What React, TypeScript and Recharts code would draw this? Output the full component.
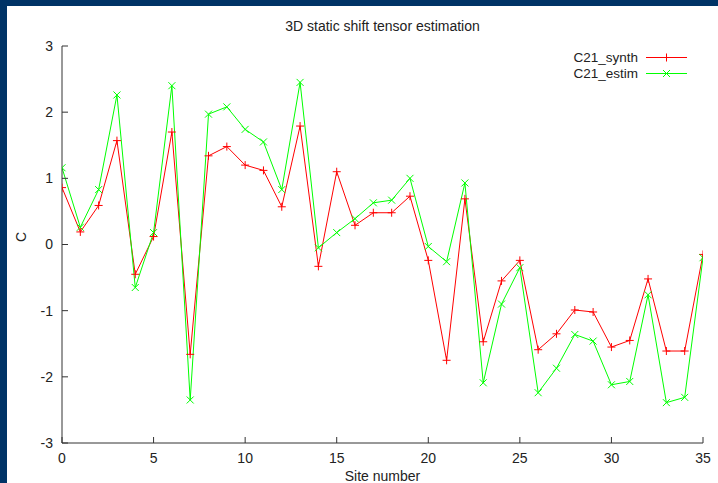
import React from 'react';
import { LineChart, Line, XAxis, YAxis, Legend } from 'recharts';

const sites = [
  0, 1, 2, 3, 4, 5, 6, 7, 8, 9, 10, 11, 12, 13, 14, 15, 16, 17,
  18, 19, 20, 21, 22, 23, 24, 25, 26, 27, 28, 29, 30, 31, 32, 33, 34, 35,
];
const c21Synth = [
  0.86, 0.19, 0.59, 1.57, -0.45, 0.12, 1.7, -1.66, 1.34, 1.48, 1.2, 1.12,
  0.57, 1.79, -0.33, 1.1, 0.29, 0.48, 0.48, 0.73, -0.24, -1.75, 0.69, -1.47,
  -0.55, -0.24, -1.59, -1.35, -0.99, -1.02, -1.55, -1.45, -0.52, -1.61, -1.61, -0.15,
];
const c21Estim = [
  1.16, 0.26, 0.83, 2.26, -0.65, 0.18, 2.4, -2.35, 1.97, 2.08, 1.74, 1.55,
  0.83, 2.45, -0.05, 0.18, 0.39, 0.63, 0.67, 1.0, -0.03, -0.26, 0.93, -2.09,
  -0.9, -0.35, -2.24, -1.87, -1.36, -1.46, -2.12, -2.07, -0.76, -2.39, -2.31, -0.2,
];
const xTicks = [0, 5, 10, 15, 20, 25, 30, 35];
const yTicks = [-3, -2, -1, 0, 1, 2, 3];
const seriesNames = ['C21_synth', 'C21_estim'];

const data = sites.map((s, i) => ({ site: s, synth: c21Synth[i], estim: c21Estim[i] }));

const RED = '#ff0000';
const GREEN = '#00ff00';
const AXIS = '#333333';
const FONT = '"Liberation Sans", Arial, Helvetica, sans-serif';

const PlusDot = (props: any) => {
  const { cx, cy } = props;
  if (cx == null || cy == null) return null;
  const r = 4;
  return (
    <g>
      <line x1={cx - r} y1={cy} x2={cx + r} y2={cy} stroke={RED} strokeWidth={1} />
      <line x1={cx} y1={cy - r} x2={cx} y2={cy + r} stroke={RED} strokeWidth={1} />
    </g>
  );
};

const CrossDot = (props: any) => {
  const { cx, cy } = props;
  if (cx == null || cy == null) return null;
  const r = 3.5;
  return (
    <g>
      <line x1={cx - r} y1={cy - r} x2={cx + r} y2={cy + r} stroke={GREEN} strokeWidth={1} />
      <line x1={cx - r} y1={cy + r} x2={cx + r} y2={cy - r} stroke={GREEN} strokeWidth={1} />
    </g>
  );
};

const renderLegend = () => {
  const rows = [
    { name: seriesNames[0], color: RED, marker: 'plus' },
    { name: seriesNames[1], color: GREEN, marker: 'cross' },
  ];
  return (
    <div style={{ fontFamily: FONT, fontSize: 13.5, color: '#222' }}>
      {rows.map((r) => (
        <div
          key={r.name}
          style={{ display: 'flex', justifyContent: 'flex-end', alignItems: 'center', height: 15.5 }}
        >
          <span style={{ lineHeight: '15px', display: 'block' }}>{r.name}</span>
          <svg width={41} height={13} style={{ marginLeft: 8 }}>
            <line x1={0} y1={6.5} x2={41} y2={6.5} stroke={r.color} strokeWidth={1} />
            {r.marker === 'plus' ? (
              <g>
                <line x1={16.5} y1={6.5} x2={24.5} y2={6.5} stroke={r.color} />
                <line x1={20.5} y1={2.5} x2={20.5} y2={10.5} stroke={r.color} />
              </g>
            ) : (
              <g>
                <line x1={17} y1={3} x2={24} y2={10} stroke={r.color} />
                <line x1={17} y1={10} x2={24} y2={3} stroke={r.color} />
              </g>
            )}
          </svg>
        </div>
      ))}
    </div>
  );
};

export default function App() {
  const tickStyle = { fill: '#222', fontSize: 14, fontFamily: FONT };
  return (
    <div
      style={{
        position: 'fixed',
        left: 0,
        top: 0,
        width: 718,
        height: 483,
        background: '#003366',
        overflow: 'hidden',
      }}
    >
      <div
        style={{
          position: 'absolute',
          left: 7,
          top: 6,
          width: 711,
          height: 477,
          background: '#ffffff',
        }}
      >
        <div
          style={{
            position: 'absolute',
            left: 0,
            width: 751,
            top: 12,
            textAlign: 'center',
            fontFamily: FONT,
            fontSize: 14,
            color: '#222',
            lineHeight: '16px',
          }}
        >
          3D static shift tensor estimation
        </div>
        <div
          style={{
            position: 'absolute',
            left: 0,
            width: 751,
            top: 463,
            textAlign: 'center',
            fontFamily: FONT,
            fontSize: 14,
            color: '#222',
            lineHeight: '14px',
          }}
        >
          Site number
        </div>
        <div
          style={{
            position: 'absolute',
            left: 14,
            top: 231,
            transform: 'translate(-50%, -50%) rotate(-90deg)',
            fontFamily: FONT,
            fontSize: 14,
            color: '#222',
            lineHeight: '16px',
          }}
        >
          C
        </div>
        <LineChart
          width={711}
          height={477}
          data={data}
          margin={{ top: 40, right: 15, bottom: 0, left: 0 }}
          style={{ position: 'absolute', left: 0, top: 0 }}
        >
          <XAxis
            xAxisId="b"
            dataKey="site"
            type="number"
            orientation="bottom"
            domain={[0, 35]}
            ticks={xTicks}
            interval={0}
            allowDataOverflow
            height={40}
            tickSize={-6}
            tickMargin={16}
            stroke={AXIS}
            tick={tickStyle}
          />
          <XAxis
            xAxisId="t"
            dataKey="site"
            type="number"
            orientation="top"
            domain={[0, 35]}
            ticks={xTicks}
            interval={0}
            allowDataOverflow
            height={0}
            tickSize={-6}
            stroke={AXIS}
            tick={false}
          />
          <YAxis
            yAxisId="l"
            type="number"
            orientation="left"
            domain={[-3, 3]}
            ticks={yTicks}
            interval={0}
            allowDataOverflow
            width={55}
            tickSize={-6}
            tickMargin={15}
            stroke={AXIS}
            tick={tickStyle}
          />
          <YAxis
            yAxisId="r"
            type="number"
            orientation="right"
            domain={[-3, 3]}
            ticks={yTicks}
            interval={0}
            allowDataOverflow
            width={0}
            tickSize={-6}
            stroke={AXIS}
            tick={false}
          />
          <Legend
            layout="vertical"
            align="center"
            verticalAlign="middle"
            content={renderLegend}
            wrapperStyle={{ position: 'absolute', top: 44, left: 500, width: 180 }}
          />
          <Line
            xAxisId="b"
            yAxisId="l"
            dataKey="synth"
            name={seriesNames[0]}
            stroke={RED}
            strokeWidth={1}
            dot={<PlusDot />}
            activeDot={false}
            isAnimationActive={false}
          />
          <Line
            xAxisId="b"
            yAxisId="l"
            dataKey="estim"
            name={seriesNames[1]}
            stroke={GREEN}
            strokeWidth={1}
            dot={<CrossDot />}
            activeDot={false}
            isAnimationActive={false}
          />
        </LineChart>
      </div>
    </div>
  );
}
